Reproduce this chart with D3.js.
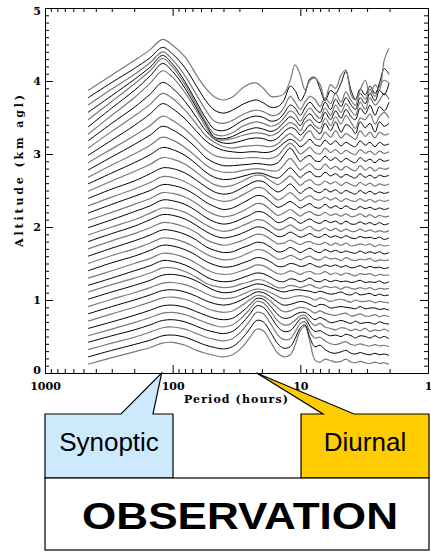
<!DOCTYPE html>
<html>
<head>
<meta charset="utf-8">
<script src="https://cdn.jsdelivr.net/npm/d3@7"></script>
<style>
body { margin: 0; background: #fff; }
</style>
</head>
<body>
<div id="chart"></div>
<script>
// periods (hours) where each altitude spectrum is sampled
var periods = [460, 300, 200, 150, 120, 100, 80, 65, 55, 47, 40, 34, 29, 25, 22, 19.5, 17, 15, 13.5, 12,
    11, 10, 9.2, 8.4, 7.7, 7, 6.4, 5.8, 5.3, 4.8, 4.4, 4.0, 3.7, 3.4, 3.1, 2.85, 2.6, 2.4, 2.2, 2.02];

// altitude (km agl) of each curve = its offset in the stack
var offsets = [0.12, 0.22, 0.32, 0.42, 0.51, 0.61, 0.71, 0.81, 0.91, 1.01, 1.11, 1.20, 1.30, 1.40, 1.50,
    1.60, 1.70, 1.80, 1.89, 1.99, 2.09, 2.19, 2.29, 2.39, 2.49, 2.59, 2.68, 2.78, 2.88, 2.98, 3.08, 3.18,
    3.27, 3.37, 3.47, 3.57, 3.67, 3.77, 3.87];

// spectral amplitude above each offset, bottom curve first
var spectra = [
    [0, .09, .17, .23, .29, .30, .26, .19, .15, .12, .10, .13, .22, .36, .48, .46, .30, .15, .10, .13, .26, .46, .52, .30, .06, .03, .07, .05, .03, .04, .07, .03, .02, .04, .02, .01, .03, .01, .02, 0],
    [0, .09, .17, .23, .29, .30, .27, .21, .16, .13, .11, .14, .24, .38, .50, .48, .33, .18, .12, .14, .25, .40, .44, .26, .14, .16, .10, .06, .05, .07, .09, .05, .04, .06, .04, .03, .05, .03, .04, .02],
    [0, .09, .17, .24, .30, .31, .28, .22, .17, .14, .12, .15, .25, .39, .51, .49, .35, .20, .14, .15, .24, .36, .38, .24, .16, .17, .12, .08, .07, .09, .11, .07, .06, .08, .06, .05, .07, .05, .06, .04],
    [0, .09, .17, .24, .30, .31, .28, .22, .17, .14, .12, .15, .25, .38, .50, .48, .35, .21, .15, .16, .23, .32, .33, .22, .15, .16, .12, .09, .10, .08, .11, .09, .06, .09, .08, .06, .09, .06, .08, .05],
    [0, .09, .18, .25, .31, .32, .29, .23, .18, .14, .12, .15, .24, .36, .47, .45, .33, .20, .15, .16, .21, .27, .28, .20, .14, .17, .12, .10, .08, .11, .10, .07, .09, .07, .10, .06, .08, .07, .09, .06],
    [0, .09, .18, .25, .31, .32, .29, .23, .18, .14, .12, .14, .22, .32, .41, .40, .30, .19, .14, .15, .19, .22, .22, .17, .12, .15, .12, .08, .09, .11, .09, .07, .10, .07, .08, .08, .06, .09, .07, .06],
    [0, .10, .19, .26, .32, .33, .30, .24, .18, .14, .12, .14, .21, .29, .35, .34, .27, .18, .13, .14, .17, .19, .18, .15, .11, .14, .11, .09, .08, .10, .11, .07, .08, .10, .07, .07, .09, .06, .08, .06],
    [0, .10, .19, .26, .32, .33, .30, .24, .18, .14, .12, .14, .19, .25, .30, .29, .23, .16, .12, .13, .15, .17, .16, .13, .10, .13, .12, .08, .09, .10, .09, .08, .07, .10, .07, .08, .08, .06, .07, .05],
    [0, .10, .19, .26, .32, .33, .30, .24, .18, .13, .11, .12, .16, .21, .24, .23, .19, .14, .11, .12, .14, .15, .14, .12, .09, .12, .10, .07, .09, .10, .08, .06, .09, .07, .07, .08, .05, .07, .06, .05],
    [0, .10, .19, .26, .33, .34, .31, .25, .18, .12, .09, .10, .14, .18, .21, .20, .16, .12, .10, .12, .13, .13, .12, .11, .09, .11, .09, .07, .08, .10, .07, .06, .09, .06, .07, .08, .05, .07, .05, .06],
    [0, .10, .19, .26, .33, .33, .28, .20, .12, .08, .06, .07, .11, .14, .17, .16, .11, .06, .06, .09, .08, .06, .08, .10, .07, .05, .08, .06, .07, .04, .07, .05, .04, .06, .04, .06, .03, .05, .04, .05],
    [0, .10, .20, .27, .34, .33, .28, .20, .12, .07, .05, .06, .10, .14, .17, .16, .11, .06, .05, .09, .08, .05, .07, .10, .06, .05, .08, .05, .07, .05, .06, .04, .05, .07, .04, .05, .04, .06, .03, .05],
    [0, .10, .20, .27, .34, .33, .28, .20, .12, .07, .05, .06, .10, .14, .18, .17, .11, .06, .06, .10, .08, .05, .08, .09, .06, .06, .09, .05, .07, .04, .07, .05, .03, .06, .05, .06, .03, .05, .04, .04],
    [0, .11, .20, .28, .35, .34, .29, .21, .13, .08, .05, .06, .10, .14, .18, .17, .12, .06, .06, .10, .09, .06, .07, .10, .07, .05, .08, .06, .08, .05, .07, .04, .05, .07, .04, .06, .04, .05, .03, .05],
    [0, .11, .20, .28, .35, .34, .29, .21, .13, .08, .05, .06, .10, .15, .19, .18, .12, .06, .07, .11, .09, .05, .08, .10, .06, .05, .09, .06, .07, .04, .08, .05, .04, .06, .05, .07, .03, .05, .04, .05],
    [0, .11, .21, .29, .36, .35, .30, .22, .13, .08, .05, .06, .11, .15, .19, .18, .12, .06, .07, .12, .09, .05, .08, .11, .07, .05, .09, .06, .08, .05, .07, .05, .04, .07, .04, .06, .04, .06, .03, .05],
    [0, .11, .21, .29, .36, .35, .30, .22, .13, .08, .05, .07, .11, .16, .20, .19, .13, .07, .08, .12, .09, .06, .09, .10, .07, .06, .09, .05, .08, .05, .08, .04, .05, .07, .05, .07, .03, .06, .04, .05],
    [0, .11, .21, .30, .37, .36, .31, .22, .14, .08, .05, .07, .11, .16, .20, .19, .13, .07, .08, .13, .10, .06, .08, .11, .07, .06, .10, .06, .08, .05, .08, .05, .04, .07, .05, .06, .04, .06, .03, .05],
    [0, .11, .21, .30, .37, .36, .31, .22, .14, .08, .05, .07, .12, .17, .21, .20, .13, .07, .09, .14, .10, .06, .09, .12, .07, .06, .10, .06, .09, .05, .08, .05, .05, .08, .05, .07, .04, .06, .04, .06],
    [0, .11, .22, .30, .38, .37, .32, .23, .14, .08, .05, .07, .12, .17, .22, .21, .14, .07, .09, .14, .11, .06, .09, .12, .08, .06, .10, .07, .09, .05, .09, .05, .05, .08, .05, .07, .04, .07, .04, .06],
    [0, .11, .22, .30, .38, .37, .32, .23, .14, .08, .05, .07, .12, .18, .23, .22, .14, .07, .10, .15, .11, .06, .10, .12, .08, .07, .11, .07, .09, .06, .09, .05, .06, .09, .05, .08, .04, .07, .05, .06],
    [0, .12, .23, .31, .39, .38, .33, .24, .15, .09, .05, .07, .13, .19, .24, .23, .15, .08, .11, .16, .12, .07, .10, .13, .08, .07, .12, .07, .10, .06, .10, .06, .05, .09, .06, .08, .05, .07, .05, .07],
    [0, .12, .23, .32, .40, .39, .33, .24, .15, .09, .06, .08, .14, .20, .25, .24, .15, .08, .12, .18, .13, .07, .11, .14, .09, .08, .12, .08, .11, .06, .10, .07, .06, .10, .06, .09, .05, .08, .06, .08],
    [0, .13, .24, .34, .42, .41, .35, .25, .16, .09, .06, .08, .14, .20, .24, .23, .15, .09, .13, .20, .14, .07, .12, .15, .10, .08, .13, .09, .12, .07, .11, .08, .06, .11, .07, .10, .06, .09, .07, .09],
    [0, .14, .27, .37, .46, .44, .37, .26, .16, .09, .06, .08, .13, .19, .22, .21, .14, .09, .14, .21, .15, .08, .13, .16, .10, .09, .14, .10, .13, .08, .12, .09, .07, .12, .08, .11, .07, .10, .08, .10],
    [0, .15, .29, .40, .50, .47, .39, .27, .16, .09, .06, .07, .10, .13, .15, .14, .10, .08, .14, .22, .16, .09, .14, .17, .11, .10, .16, .11, .14, .09, .13, .10, .08, .14, .09, .12, .08, .12, .10, .12],
    [0, .17, .32, .44, .55, .51, .41, .28, .17, .10, .07, .07, .09, .11, .12, .11, .09, .09, .17, .26, .19, .10, .15, .19, .12, .11, .18, .12, .15, .10, .15, .11, .09, .16, .10, .14, .09, .13, .11, .13],
    [0, .18, .35, .48, .60, .55, .44, .30, .17, .10, .06, .06, .07, .08, .09, .08, .07, .10, .20, .30, .22, .12, .17, .20, .13, .12, .19, .13, .17, .11, .16, .12, .10, .17, .12, .15, .10, .15, .12, .14],
    [0, .19, .37, .51, .64, .58, .46, .31, .18, .10, .07, .06, .06, .07, .07, .06, .06, .10, .19, .27, .21, .12, .16, .21, .14, .12, .20, .14, .18, .12, .17, .13, .11, .18, .13, .16, .11, .16, .13, .15],
    [0, .21, .41, .57, .71, .64, .50, .33, .20, .12, .07, .05, .04, .05, .05, .04, .05, .10, .17, .22, .19, .12, .16, .22, .15, .13, .21, .15, .20, .13, .18, .14, .12, .20, .14, .18, .12, .18, .14, .16],
    [0, .23, .44, .60, .75, .68, .52, .33, .17, .08, .02, .00, .02, .03, .04, .03, .02, .06, .14, .20, .15, .10, .18, .24, .14, .12, .22, .15, .24, .14, .20, .16, .12, .24, .16, .22, .14, .22, .18, .20],
    [0, .24, .46, .64, .80, .72, .54, .32, .14, .02, -.03, -.03, .00, .03, .04, .03, .00, .04, .12, .18, .16, .08, .14, .22, .16, .10, .24, .14, .26, .12, .22, .18, .10, .26, .18, .24, .12, .26, .20, .24],
    [0, .26, .50, .70, .87, .78, .57, .32, .10, -.06, -.08, -.06, -.02, .01, .02, .01, -.02, .02, .10, .16, .13, .05, .16, .20, .12, .08, .22, .12, .24, .14, .26, .16, .08, .22, .20, .28, .14, .24, .30, .22],
    [0, .26, .50, .70, .87, .76, .53, .26, .04, -.14, -.16, -.13, -.07, -.03, -.01, -.03, -.06, -.02, .06, .14, .10, .02, .12, .18, .10, .06, .20, .10, .22, .12, .24, .14, .10, .26, .18, .30, .16, .28, .22, .34],
    [0, .25, .49, .67, .84, .72, .48, .20, -.03, -.20, -.22, -.18, -.10, -.05, -.03, -.05, -.09, -.06, .02, .12, .08, -.02, .08, .16, .08, .02, .16, .06, .20, .10, .22, .12, .06, .24, .14, .30, .20, .26, .36, .28],
    [0, .23, .45, .62, .78, .66, .42, .14, -.08, -.23, -.25, -.20, -.12, -.07, -.05, -.07, -.12, -.10, -.02, .10, .06, -.04, .06, .14, .06, .00, .14, .04, .18, .08, .20, .10, .04, .20, .12, .26, .16, .30, .24, .40],
    [0, .22, .42, .58, .73, .62, .40, .14, -.07, -.22, -.25, -.21, -.14, -.09, -.07, -.09, -.14, -.13, -.04, .12, .04, -.06, .04, .12, .08, -.02, .10, .02, .16, .04, .18, .06, .00, .16, .08, .22, .12, .26, .34, .30],
    [0, .21, .40, .55, .69, .60, .41, .16, -.04, -.17, -.21, -.17, -.10, -.05, -.03, -.07, -.13, -.12, -.04, .16, .10, -.04, .06, .26, .28, .12, -.04, .10, .06, .20, .36, .10, -.02, .12, .04, .16, .06, .20, .40, .32],
    [0, .21, .41, .56, .70, .62, .46, .21, .03, -.09, -.13, -.09, .02, .09, .10, .03, -.08, -.08, -.05, .14, .35, .21, .01, .14, .17, .08, -.13, .08, .03, .21, .28, -.06, -.13, .01, .14, -.06, .08, .01, .42, .58]
];

var xMajor = [1000, 100, 10, 1];
var yMajor = [0, 1, 2, 3, 4, 5];
var calloutPeriods = { synoptic: 122, diurnal: 22 };

var width = 431, height = 552;
var margin = { left: 45, right: 3, top: 8, bottom: 179 };

var svg = d3.select("#chart")
    .append("svg")
    .attr("width", width)
    .attr("height", height)
    .style("background", "#fff");

var x = d3.scaleLog()
    .domain([1000, 1])
    .range([margin.left, width - margin.right]);
var y = d3.scaleLinear()
    .domain([0, 5])
    .range([height - margin.bottom, margin.top]);

var xMinor = x.ticks().filter(function(v) { return xMajor.indexOf(v) < 0; });
var yMinor = d3.range(1, 50).map(function(v) { return v / 10; })
    .filter(function(v) { return v % 1 !== 0; });

var tickFont = "'DejaVu Serif', serif";

function addAxis(axis, tx, ty, labels) {
    var g = svg.append("g")
        .attr("transform", "translate(" + tx + "," + ty + ")")
        .call(axis);
    g.selectAll("path, line").attr("stroke", "#000").attr("stroke-width", 1);
    g.attr("font-family", tickFont).attr("font-size", 11).attr("font-weight", "bold");
    if (!labels) g.selectAll("text").remove();
    return g;
}

// bottom / top
var bottom = addAxis(d3.axisBottom(x).tickValues(xMajor).tickSize(-8).tickSizeOuter(0)
    .tickPadding(9).tickFormat(d3.format("d")), 0, y(0), true);
addAxis(d3.axisBottom(x).tickValues(xMinor).tickSize(-4).tickSizeOuter(0), 0, y(0), false);
addAxis(d3.axisTop(x).tickValues(xMajor).tickSize(-8).tickSizeOuter(0), 0, y(5), false);
addAxis(d3.axisTop(x).tickValues(xMinor).tickSize(-4).tickSizeOuter(0), 0, y(5), false);

// left / right
var left = addAxis(d3.axisLeft(y).tickValues(yMajor).tickSize(-8).tickSizeOuter(0)
    .tickPadding(4).tickFormat(d3.format("d")), x(1000), 0, true);
left.selectAll("text").attr("dy", function(d) {
    return d === 0 ? "0em" : (d === 5 ? "0.62em" : "0.32em");
});
addAxis(d3.axisLeft(y).tickValues(yMinor).tickSize(-4).tickSizeOuter(0), x(1000), 0, false);
addAxis(d3.axisRight(y).tickValues(yMajor).tickSize(-8).tickSizeOuter(0), x(1), 0, false);
addAxis(d3.axisRight(y).tickValues(yMinor).tickSize(-4).tickSizeOuter(0), x(1), 0, false);

// axis titles
svg.append("text")
    .attr("x", 236)
    .attr("y", 403)
    .attr("text-anchor", "middle")
    .attr("font-family", tickFont)
    .attr("font-size", 11)
    .attr("font-weight", "bold")
    .attr("textLength", 104)
    .text("Period (hours)");

svg.append("text")
    .attr("transform", "translate(23," + 171 + ") rotate(-90)")
    .attr("text-anchor", "middle")
    .attr("font-family", tickFont)
    .attr("font-size", 11)
    .attr("font-weight", "bold")
    .attr("textLength", 152)
    .text("Altitude (km agl)");

// stacked spectra
var linePath = d3.line()
    .x(function(d, j) { return x(periods[j]); })
    .y(function(d) { return y(d); })
    .curve(d3.curveCatmullRom.alpha(0.5));

svg.append("g")
    .selectAll("path")
    .data(spectra)
    .enter()
    .append("path")
    .attr("d", function(s, i) {
        return linePath(s.map(function(v) { return offsets[i] + v; }));
    })
    .attr("fill", "none")
    .attr("stroke", function(s, i) { return i % 2 === 0 ? "#7a7a7a" : "#000"; })
    .attr("stroke-width", function(s, i) { return i % 2 === 0 ? 1.2 : 1; })
    .attr("stroke-linejoin", "round");

// callout boxes
var base = y(0);
var boxTop = 414, boxBottom = 478;
var sx = x(calloutPeriods.synoptic), dx = x(calloutPeriods.diurnal);

svg.append("path")
    .attr("d", "M45," + boxTop + "L121," + boxTop + "L" + sx + "," + base + "L153," + boxTop +
        "L173," + boxTop + "L173," + boxBottom + "L45," + boxBottom + "Z")
    .attr("fill", "#cdeafc")
    .attr("stroke", "#000")
    .attr("stroke-width", 1.2)
    .attr("stroke-linejoin", "miter");

svg.append("path")
    .attr("d", "M301," + boxTop + "L323," + boxTop + "L" + dx + "," + base + "L354," + boxTop +
        "L429," + boxTop + "L429," + boxBottom + "L301," + boxBottom + "Z")
    .attr("fill", "#ffcc00")
    .attr("stroke", "#000")
    .attr("stroke-width", 1.2)
    .attr("stroke-linejoin", "miter");

svg.append("rect")
    .attr("x", 45)
    .attr("y", boxBottom)
    .attr("width", 384)
    .attr("height", 72)
    .attr("fill", "#fff")
    .attr("stroke", "#000")
    .attr("stroke-width", 1.2);

var sansFont = "'Liberation Sans', Arial, sans-serif";
svg.append("text")
    .attr("x", 109)
    .attr("y", 451)
    .attr("text-anchor", "middle")
    .attr("font-family", sansFont)
    .attr("font-size", 26)
    .text("Synoptic");
svg.append("text")
    .attr("x", 365)
    .attr("y", 451)
    .attr("text-anchor", "middle")
    .attr("font-family", sansFont)
    .attr("font-size", 26)
    .text("Diurnal");
svg.append("text")
    .attr("x", 240)
    .attr("y", 529)
    .attr("text-anchor", "middle")
    .attr("font-family", sansFont)
    .attr("font-size", 37)
    .attr("font-weight", "bold")
    .attr("textLength", 316)
    .attr("lengthAdjust", "spacingAndGlyphs")
    .text("OBSERVATION");
</script>
</body>
</html>
